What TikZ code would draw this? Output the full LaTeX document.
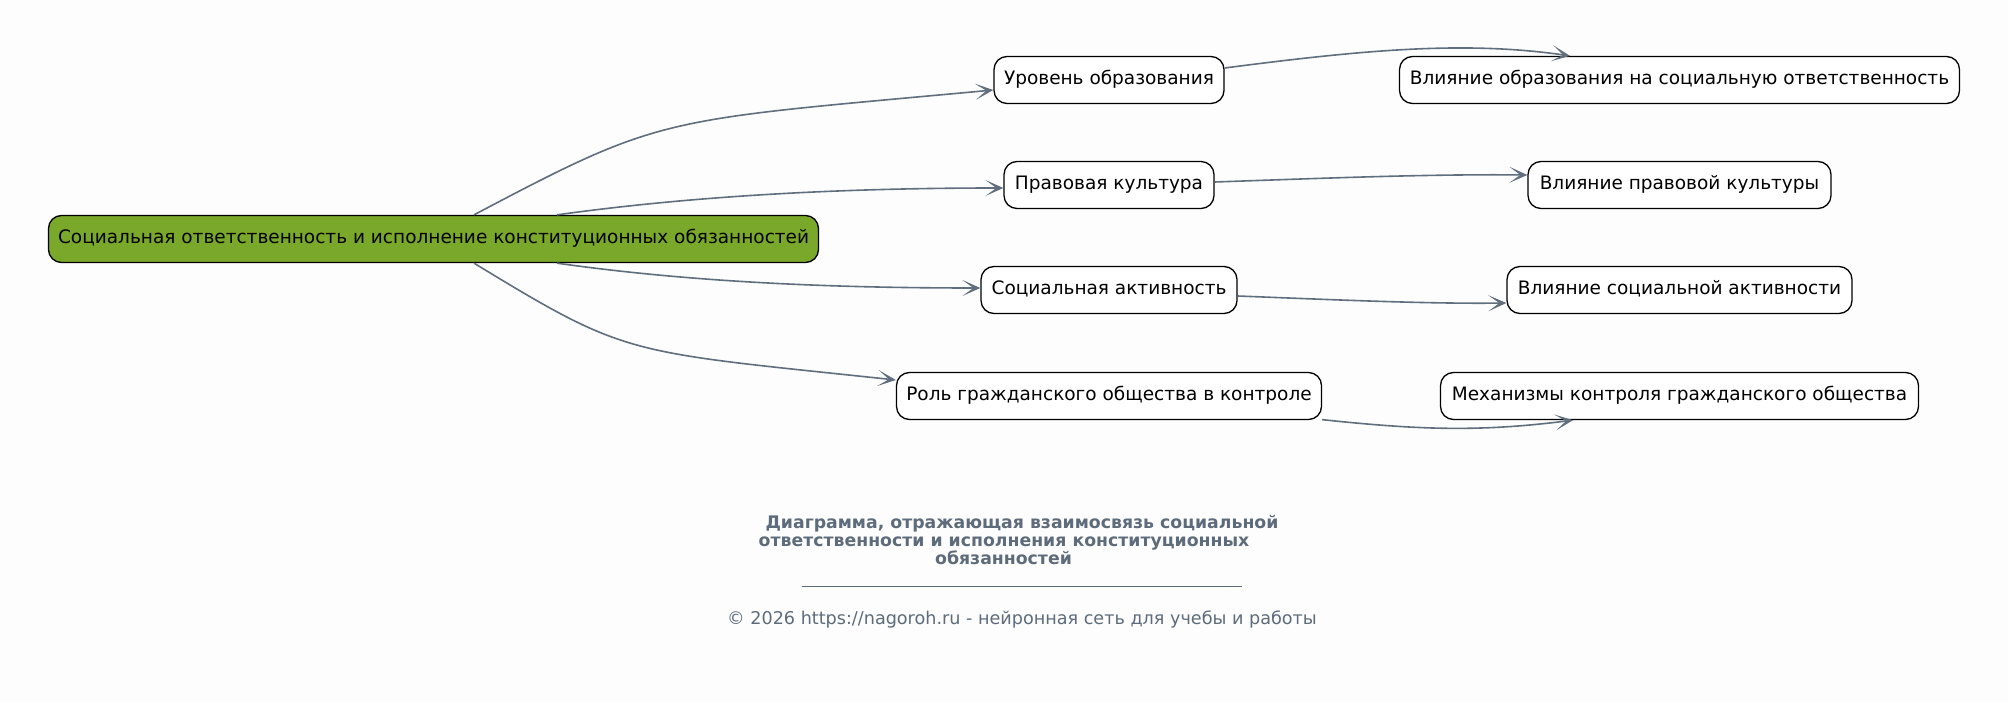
\documentclass[tikz,border=0pt]{standalone}
\usepackage{fontspec}
\setmainfont{DejaVu Sans}
\usetikzlibrary{arrows.meta,calc}
\definecolor{edgec}{RGB}{96,110,126}
\definecolor{rootc}{RGB}{122,168,42}
\definecolor{titlec}{RGB}{93,107,123}
\definecolor{bgc}{RGB}{253,253,253}
\begin{document}
\begin{tikzpicture}[x=1pt,y=-1pt,
  box/.style={draw=black, line width=1.3pt, rounded corners=13pt, fill=white,
    minimum height=47pt, inner sep=0pt, font=\fontsize{18.5}{22}\selectfont,
    text height=13.5pt, text depth=4pt},
  conn/.style={draw=edgec, line width=1.6pt, -{Stealth[length=18pt,width=16pt,inset=11pt]}},
  titletext/.style={anchor=base, text=titlec, inner sep=0pt, font=\fontsize{17.3}{18}\selectfont\bfseries},
  foottext/.style={anchor=base, text=titlec, inner sep=0pt, font=\fontsize{17.6}{20}\selectfont},
]
\useasboundingbox (0,0) rectangle (2008,703);
\fill[bgc] (0,0) rectangle (2008,703);

\node[box, fill=rootc, minimum width=770pt] (root) at (433.5,239) {Социальная ответственность и исполнение конституционных обязанностей};
\node[box, minimum width=230pt] (n1) at (1109,80) {Уровень образования};
\node[box, minimum width=210pt] (n2) at (1109,185) {Правовая культура};
\node[box, minimum width=256pt] (n3) at (1109,290) {Социальная активность};
\node[box, minimum width=425pt] (n4) at (1109,396) {Роль гражданского общества в контроле};
\node[box, minimum width=560pt] (m1) at (1679.5,80) {Влияние образования на социальную ответственность};
\node[box, minimum width=303pt] (m2) at (1679.5,185) {Влияние правовой культуры};
\node[box, minimum width=345pt] (m3) at (1679.5,290) {Влияние социальной активности};
\node[box, minimum width=478pt] (m4) at (1679.5,396) {Механизмы контроля гражданского общества};

\draw[conn] ($(root.north)+(40.5,0)$) .. controls (665,114) and (659,121) .. ($(n1.west)+(0,10)$);
\draw[conn] ($(root.north)+(123.5,0)$) .. controls (700,195) and (850,188) .. ($(n2.west)+(0,3)$);
\draw[conn] ($(root.south)+(123.5,0)$) .. controls (690,282) and (830,288) .. ($(n3.west)+(0,-2)$);
\draw[conn] ($(root.south)+(40.5,0)$) .. controls (629,357.5) and (624,351) .. ($(n4.west)+(0,-16)$);

\draw[conn] ($(n1.east)+(0,-12)$) .. controls (1363,50) and (1464,40.6) .. ($(m1.north)+(-109.5,0)$);
\draw[conn] ($(n2.east)+(0,-3)$) .. controls (1330,178) and (1430,174) .. ($(m2.west)+(0,-10)$);
\draw[conn] ($(n3.east)+(0,6)$) .. controls (1340,300) and (1430,304) .. ($(m3.west)+(0,13)$);
\draw[conn] ($(n4.south east)+(0,-0.5)$) .. controls (1420,430) and (1480,432) .. ($(m4.south)+(-106.5,0)$);

\node[titletext] (t1) at (1022,528) {Диаграмма, отражающая взаимосвязь социальной};
\node[titletext] (t2) at (1004,546) {ответственности и исполнения конституционных};
\node[titletext] (t3) at (1003.5,564) {обязанностей};
\draw[draw=titlec, line width=0.9pt] (801.6,586.5) -- (1242,586.5);
\node[foottext] (foot) at (1022,624) {© 2026 https://nagoroh.ru - нейронная сеть для учебы и работы};
\end{tikzpicture}
\end{document}
